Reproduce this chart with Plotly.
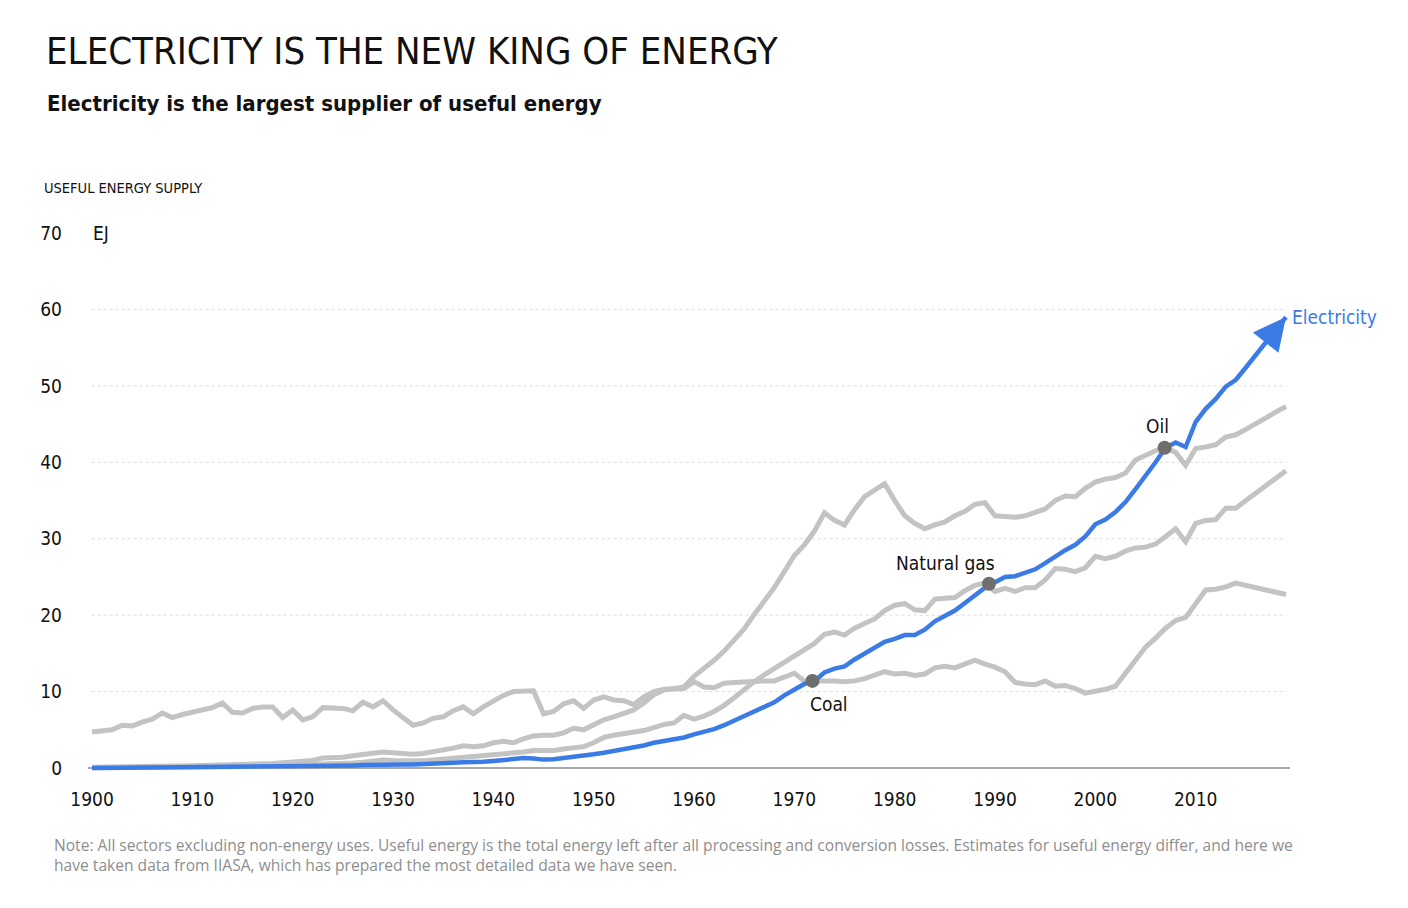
import plotly.graph_objects as go

years = list(range(1900, 2020))

coal = [
    4.7, 4.9, 5.0, 5.6, 5.5, 6.0, 6.4, 7.2, 6.6, 7.0,
    7.3, 7.5, 7.9, 8.5, 7.3, 7.2, 7.8, 8.0, 8.0, 6.6,
    7.6, 6.3, 6.7, 7.9, 7.9, 7.8, 7.5, 8.6, 8.0, 8.8,
    7.6, 6.5, 5.6, 5.9, 6.5, 6.7, 7.5, 8.0, 7.1, 8.0,
    8.8, 9.5, 10.0, 10.0, 10.1, 7.1, 7.4, 8.4, 8.8, 7.8,
    8.9, 9.3, 8.9, 8.8, 8.3, 9.3, 10.0, 10.3, 10.4, 10.4,
    11.3, 10.6, 10.5, 11.1, 11.2, 11.3, 11.3, 11.4, 11.4, 11.9,
    12.4, 11.4, 11.4, 11.5, 11.4, 11.3, 11.4, 11.7, 12.2, 12.6,
    12.3, 12.4, 12.1, 12.3, 13.1, 13.3, 13.1, 13.6, 14.1, 13.6,
    13.2, 12.6, 11.2, 11.0, 10.9, 11.4, 10.7, 10.8, 10.4, 9.8,
    10.0, 10.3, 10.7, 12.4, 14.3, 15.8, 17.0, 18.3, 19.3, 19.7,
    21.5, 23.3, 23.4, 23.7, 24.2, 23.9, 23.6, 23.3, 23.0, 22.7,
]

oil = [
    0.1, 0.1, 0.12, 0.14, 0.15, 0.17, 0.2, 0.22, 0.25, 0.28,
    0.3, 0.33, 0.36, 0.4, 0.42, 0.45, 0.5, 0.55, 0.6, 0.7,
    0.8, 0.9, 1.0, 1.3, 1.3, 1.4, 1.6, 1.8, 1.9, 2.1,
    2.0, 1.9, 1.8, 1.9, 2.1, 2.35, 2.6, 2.9, 2.8, 2.9,
    3.3, 3.5, 3.3, 3.8, 4.2, 4.3, 4.3, 4.6, 5.2, 5.0,
    5.6, 6.3, 6.7, 7.1, 7.6, 8.5, 9.6, 10.2, 10.4, 10.6,
    12.0, 13.0, 14.1, 15.3, 16.7, 18.2, 20.1, 21.8, 23.6, 25.7,
    27.8, 29.2, 31.0, 33.4, 32.4, 31.8, 33.8, 35.5, 36.3, 37.2,
    35.0, 33.0, 32.0, 31.3, 31.8, 32.2, 33.0, 33.6, 34.5, 34.7,
    33.0, 32.9, 32.8, 33.0, 33.4, 33.9, 35.0, 35.6, 35.5, 36.6,
    37.4, 37.8, 38.0, 38.6, 40.3, 40.9, 41.5, 41.9, 41.3, 39.6,
    41.8, 42.0, 42.3, 43.3, 43.6, 44.3, 45.0, 45.8, 46.6, 47.3,
]

gas = [
    0.05, 0.05, 0.06, 0.06, 0.07, 0.08, 0.08, 0.09, 0.1, 0.1,
    0.12, 0.13, 0.14, 0.15, 0.16, 0.18, 0.2, 0.22, 0.25, 0.3,
    0.35, 0.4, 0.45, 0.5, 0.55, 0.6, 0.65, 0.75, 0.9, 1.05,
    1.0, 0.95, 0.9, 0.95, 1.05, 1.15, 1.3, 1.45, 1.45, 1.55,
    1.7, 1.85, 1.9, 2.1, 2.3, 2.3, 2.3, 2.5, 2.6, 2.8,
    3.3, 4.0, 4.3, 4.5, 4.6, 4.9, 5.3, 5.7, 5.9, 6.9,
    6.4, 6.8, 7.4, 8.2, 9.2, 10.3, 11.3, 12.2, 13.0, 13.8,
    14.6, 15.4, 16.3, 17.5, 17.8, 17.4, 18.3, 18.9, 19.5, 20.6,
    21.3, 21.5, 20.7, 20.6, 22.1, 22.2, 22.3, 23.2, 23.9, 24.2,
    23.1, 23.5, 23.1, 23.6, 23.6, 24.6, 26.1, 26.0, 25.7, 26.2,
    27.7, 27.4, 27.7, 28.4, 28.8, 28.9, 29.3, 30.3, 31.3, 29.6,
    32.0, 32.4, 32.5, 34.0, 34.0, 35.0, 36.0, 37.0, 38.0, 38.9,
]

electricity = [
    0.0, 0.01, 0.01, 0.02, 0.02, 0.03, 0.03, 0.04, 0.04, 0.05,
    0.05, 0.06, 0.07, 0.08, 0.08, 0.09, 0.11, 0.12, 0.13, 0.14,
    0.16, 0.17, 0.2, 0.23, 0.26, 0.3, 0.34, 0.38, 0.43, 0.5,
    0.5, 0.47, 0.45, 0.48, 0.53, 0.6, 0.68, 0.75, 0.75, 0.82,
    0.92, 1.05, 1.15, 1.3, 1.25, 1.1, 1.15, 1.3, 1.45, 1.55,
    1.8, 2.0, 2.25, 2.45, 2.65, 2.95, 3.3, 3.5, 3.7, 4.0,
    4.4, 4.7, 5.1, 5.6, 6.2, 6.7, 7.3, 7.9, 8.6, 9.5,
    10.3, 11.0, 11.4, 12.5, 13.0, 13.3, 14.2, 15.0, 15.8, 16.5,
    16.9, 17.4, 17.4, 18.1, 19.2, 19.9, 20.6, 21.6, 22.6, 23.6,
    24.3, 25.0, 25.1, 25.5, 26.0, 26.8, 27.7, 28.5, 29.2, 30.3,
    31.9, 32.5, 33.5, 34.8, 36.5, 38.2, 40.0, 41.9, 42.6, 42.0,
    45.3, 47.0, 48.3, 49.9, 50.8, 52.4, 54.0, 55.7, 57.3, 59.0,
]

# points where electricity overtakes each source
cross_labels = ["Coal", "Natural gas", "Oil"]
cross_years = [1971.8, 1989.4, 2006.9]
cross_values = [11.4, 24.1, 41.9]

x_ticks = list(range(1900, 2020, 10))
y_ticks = list(range(0, 80, 10))
grid_values = list(range(10, 70, 10))

HAND = "DejaVu Sans Condensed, DejaVu Sans, sans-serif"
BLUE = "#3a7be6"
GRAY = "#c3c3c3"
INK = "#111111"

# the page body adds an 8px offset, so the figure is 8px smaller than the window
OFF = 8
W, H = 1408 - OFF, 908 - OFF
ML, MR, MT, MB = 88 - OFF, 118, 233 - OFF, 136


def px(xp):
    return (xp - OFF - ML) / (W - ML - MR)


def py(yp):
    return (H - MB - (yp - OFF)) / (H - MT - MB)


fig = go.Figure()

for series in (coal, gas, oil):
    fig.add_trace(go.Scatter(x=years, y=series, mode="lines",
                             line=dict(color=GRAY, width=5),
                             hoverinfo="skip", showlegend=False))

fig.add_trace(go.Scatter(x=years, y=electricity, mode="lines",
                         line=dict(color=BLUE, width=4.5),
                         hoverinfo="skip", showlegend=False))

fig.add_trace(go.Scatter(x=cross_years, y=cross_values, mode="markers",
                         marker=dict(color="#6e6e6e", size=14),
                         hoverinfo="skip", showlegend=False))

# arrow head at the end of the electricity line
fig.add_annotation(x=years[-1], y=electricity[-1], ax=years[-3], ay=electricity[-3],
                   xref="x", yref="y", axref="x", ayref="y", text="",
                   showarrow=True, arrowhead=2, arrowsize=1.45, arrowwidth=4.5,
                   arrowcolor=BLUE, standoff=0)

for v in grid_values:
    fig.add_shape(type="line", xref="x domain", yref="y", x0=0.003, x1=0.997, y0=v, y1=v,
                  line=dict(color="#dcdcdc", width=1, dash="dot"), layer="below")

label_offsets = [(17, -23), (-44, 21), (-7, 22)]
for lab, xv, yv, (dx, dy) in zip(cross_labels, cross_years, cross_values, label_offsets):
    fig.add_annotation(x=xv, y=yv, text=lab, showarrow=False, xshift=dx, yshift=dy,
                       font=dict(family=HAND, size=19, color=INK))

fig.add_annotation(x=years[-1], y=electricity[-1], text="Electricity", showarrow=False,
                   xanchor="left", xshift=4, yshift=0,
                   font=dict(family=HAND, size=19, color=BLUE))

fig.add_annotation(xref="paper", yref="paper", x=px(44), y=py(51), xanchor="left", yanchor="middle",
                   text="ELECTRICITY IS THE NEW KING OF ENERGY", showarrow=False,
                   font=dict(family=HAND, size=38, color=INK))
fig.add_annotation(xref="paper", yref="paper", x=px(45), y=py(103), xanchor="left", yanchor="middle",
                   text="<b>Electricity is the largest supplier of useful energy</b>", showarrow=False,
                   font=dict(family=HAND, size=22, color=INK))
fig.add_annotation(xref="paper", yref="paper", x=px(42), y=py(188), xanchor="left", yanchor="middle",
                   text="USEFUL ENERGY SUPPLY", showarrow=False,
                   font=dict(family=HAND, size=14.5, color=INK))
fig.add_annotation(xref="paper", yref="y", x=px(91), y=y_ticks[-1], xanchor="left", yanchor="middle",
                   text="EJ", showarrow=False,
                   font=dict(family=HAND, size=19, color=INK))
fig.add_annotation(xref="paper", yref="paper", x=px(52), y=py(832), xanchor="left", yanchor="top",
                   align="left", showarrow=False,
                   text=("Note: All sectors excluding non-energy uses. Useful energy is the total energy left after all "
                         "processing and conversion losses. Estimates for useful energy differ, and here we<br>"
                         "have taken data from IIASA, which has prepared the most detailed data we have seen."),
                   font=dict(family="Open Sans, sans-serif", size=15.6, color="#8e8e8e"))

fig.update_layout(
    width=W, height=H,
    margin=dict(l=ML, r=MR, t=MT, b=MB),
    paper_bgcolor="white", plot_bgcolor="white",
    xaxis=dict(range=[1899.6, 2019.4], tickvals=x_ticks, showgrid=False, zeroline=False,
               showline=False, ticks="", ticklabelstandoff=14,
               tickfont=dict(family=HAND, size=19, color=INK)),
    yaxis=dict(range=[-0.52, 70], tickvals=y_ticks, showgrid=False, zeroline=True,
               zerolinecolor="#a9a9a9", zerolinewidth=1.5, showline=False, ticks="",
               ticklabelstandoff=25,
               tickfont=dict(family=HAND, size=19, color=INK)),
)

fig.write_html("out.html")
